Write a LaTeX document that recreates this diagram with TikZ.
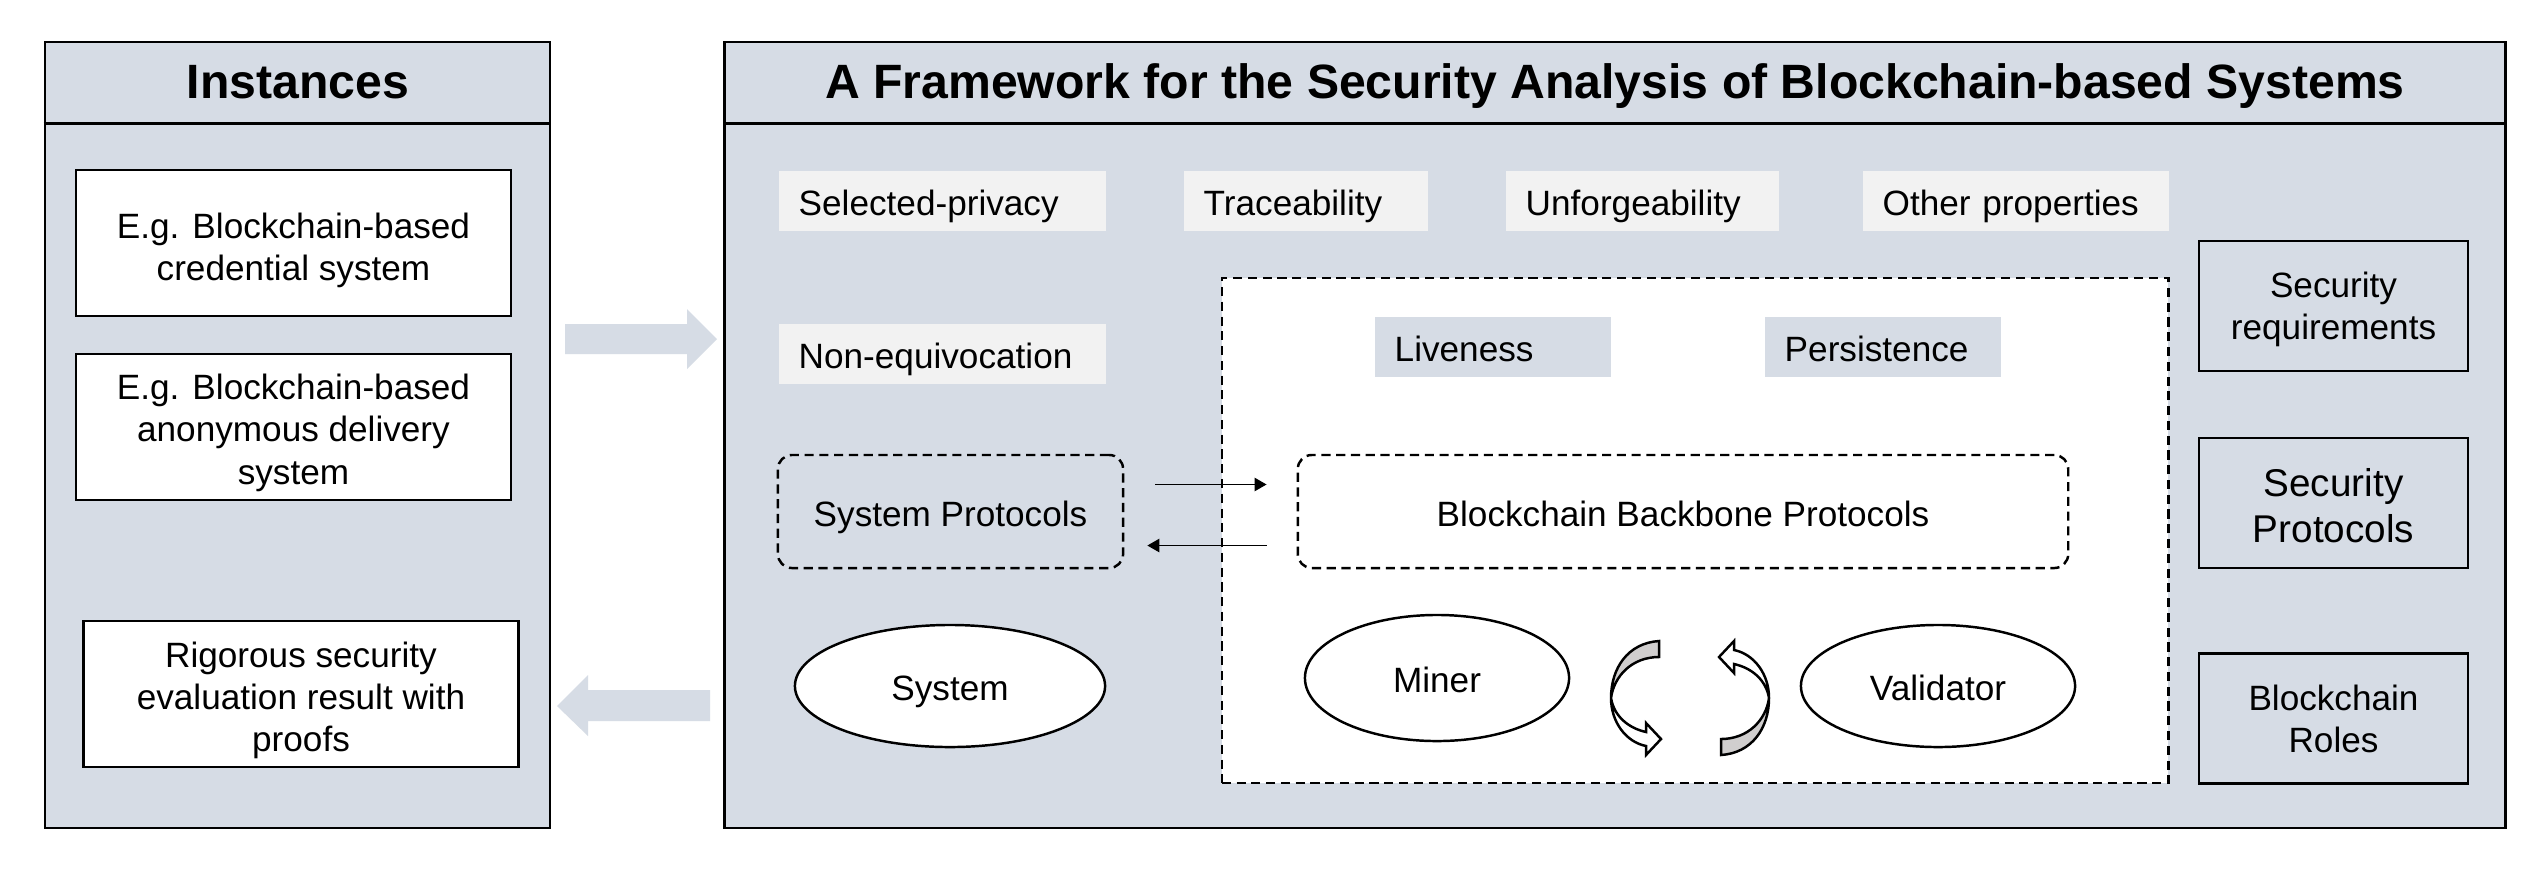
\documentclass[tikz,border=0pt]{standalone}
\usepackage{fontspec}
\setmainfont{Liberation Sans}
\usetikzlibrary{shapes.geometric,arrows.meta}
\definecolor{panelbg}{HTML}{D6DCE5}
\definecolor{propbg}{HTML}{F2F2F2}
\definecolor{twistgray}{HTML}{D0CECE}

\begin{document}
\begin{tikzpicture}[x=0.01cm,y=-0.01cm,
  every node/.style={font=\fontsize{10}{12}\selectfont},
  oneline/.style={text height=1.05em,text depth=0.21em},
  panel/.style={draw,line width=0.7pt,fill=panelbg},
  heading/.style={oneline,font=\fontsize{13.7}{16}\selectfont\bfseries},
  casebox/.style={draw,align=center,line width=0.7pt,fill=white,minimum width=4.35cm,minimum height=1.46cm,inner ysep=0pt},
  prop/.style={oneline,fill=propbg,anchor=west,minimum height=0.59cm,inner xsep=0.2cm,inner ysep=0pt,align=left},
  core/.style={oneline,fill=panelbg,anchor=west,minimum height=0.6cm,inner xsep=0.2cm,inner ysep=0pt,align=left},
  dashline/.style={dash pattern=on 2.6pt off 1.6pt,line width=0.7pt},
  proto/.style={oneline,draw,dashline,rounded corners=0.14cm,minimum height=1.13cm,inner ysep=0pt},
  role/.style={oneline,draw,ellipse,line width=0.7pt,fill=white,inner sep=0pt},
  sidebox/.style={draw,align=center,line width=0.7pt,minimum width=2.69cm,minimum height=1.3cm,inner ysep=0pt},
  flow/.style={-{Triangle[length=3.4pt,width=3.8pt]},line width=0.4pt}]
  \fill[white] (0,0) rectangle (2537,878);
  \useasboundingbox (0,0) rectangle (2537,878);

  % instances panel
  \node[panel,minimum width=5.05cm,minimum height=7.86cm] (instpanel) at (297.5,435) {};
  \draw[line width=0.7pt] ([yshift=-0.83cm]instpanel.north west) -- ([yshift=-0.83cm]instpanel.north east);
  \node[heading] (insttitle) at (298,84) {Instances};
  \node[casebox,text height=23.5pt] (credsys) at (293.5,243) {E.g. Blockchain-based\\credential system};
  \node[casebox,text height=34.5pt] (delivsys) at (293.5,427) {E.g. Blockchain-based\\anonymous delivery\\system};
  \node[casebox,text height=35pt] (result) at (301,694) {Rigorous security\\evaluation result with\\proofs};

  % block arrows between the panels
  \fill[panelbg] (565,324) -- (687,324) -- (687,309) -- (717,339) -- (687,369) -- (687,354) -- (565,354) -- cycle;
  \fill[panelbg] (710,690) -- (588,690) -- (588,675) -- (557,706) -- (588,736) -- (588,721) -- (710,721) -- cycle;

  % framework panel
  \node[panel,minimum width=17.8cm,minimum height=7.86cm] (framepanel) at (1615,435) {};
  \draw[line width=0.7pt] ([yshift=-0.83cm]framepanel.north west) -- ([yshift=-0.83cm]framepanel.north east);
  \node[heading] (frametitle) at (1615,84) {A Framework for the Security Analysis of Blockchain-based Systems};

  \node[prop,text width=2.87cm] (selpriv) at (778,201) {Selected-privacy};
  \node[prop,text width=2.04cm] (trace) at (1183,201) {Traceability};
  \node[prop,text width=2.33cm] (unforge) at (1505,201) {Unforgeability};
  \node[prop,text width=2.66cm] (otherprop) at (1862,201) {Other properties};
  \node[prop,text width=2.87cm] (nonequiv) at (778,354) {Non-equivocation};

  \node[draw,dashline,fill=white,minimum width=9.46cm,minimum height=5.05cm] (bbframe) at (1695,530.5) {};
  \node[core,text width=1.96cm] (live) at (1374,347) {Liveness};
  \node[core,text width=1.96cm] (persist) at (1764,347) {Persistence};

  \node[proto,minimum width=3.45cm] (sysprot) at (950.5,511.5) {System Protocols};
  \node[proto,minimum width=7.7cm] (bbp) at (1683,511.5) {Blockchain Backbone Protocols};
  \draw[flow] ([xshift=0.31cm,yshift=0.27cm]sysprot.east) -- ([xshift=-0.30cm,yshift=0.27cm]bbp.west);
  \draw[flow] ([xshift=-0.30cm,yshift=-0.34cm]bbp.west) -- ([xshift=0.23cm,yshift=-0.34cm]sysprot.east);

  \node[role,minimum width=3.1cm,minimum height=1.22cm] (system) at (950,686) {System};
  \node[role,minimum width=2.64cm,minimum height=1.26cm] (miner) at (1437,678) {Miner};
  \node[role,minimum width=2.74cm,minimum height=1.22cm] (validator) at (1938,686) {Validator};

  % twisted arrows between miner and validator
  \foreach \ang in {0,180}{
    \begin{scope}[rotate around={\ang:(1690,698)}]
      \draw[line width=0.7pt,fill=twistgray] (1659,641) .. controls (1628,643) and (1611,668) .. (1611,698)
        .. controls (1614,676) and (1632,657) .. (1659,657) -- cycle;
      \draw[line width=0.7pt,fill=white] (1611,698) .. controls (1611,722) and (1626,742) .. (1646,746)
        -- (1646,755) -- (1661,739) -- (1646,723) -- (1646,732) .. controls (1628,728) and (1614,716) .. (1611,698) -- cycle;
    \end{scope}
  }

  \node[sidebox,text height=21pt] (secreq) at (2333.5,306) {Security\\requirements};
  \node[sidebox,text height=22.5pt,font=\fontsize{11}{13}\selectfont] (secprot) at (2333.5,503) {Security\\Protocols};
  \node[sidebox,text height=19.5pt] (bcroles) at (2333.5,718.5) {Blockchain\\Roles};
\end{tikzpicture}
\end{document}
